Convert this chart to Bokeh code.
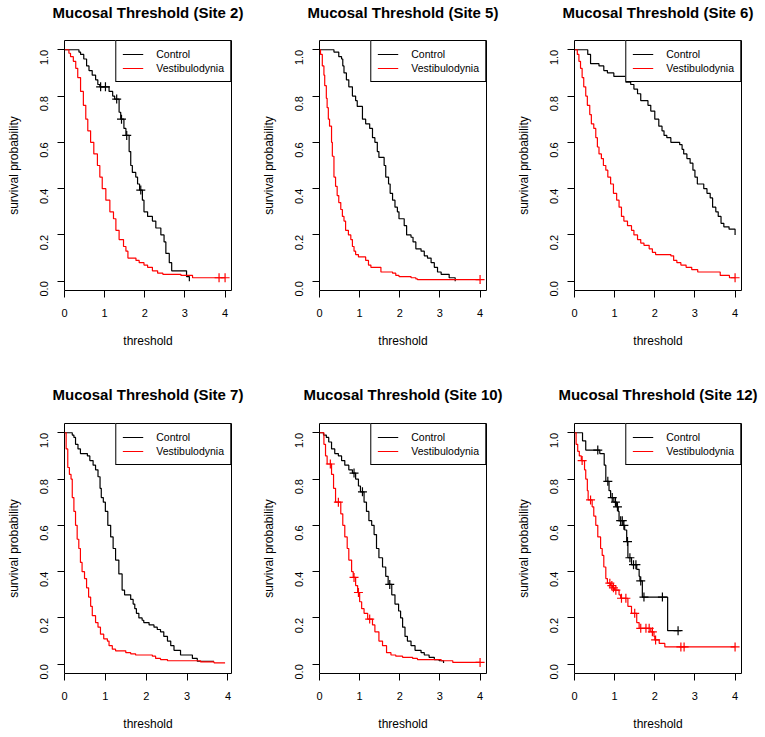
import math
import bisect
from bokeh.plotting import figure
from bokeh.layouts import column, row
from bokeh.models import Range1d, Legend, LegendItem, FixedTicker, PrintfTickFormatter, LinearAxis
from bokeh.embed import file_html
from bokeh.resources import INLINE

FONT = "Liberation Sans"
BLACK = "#000000"
RED = "#FF0000"

# ---------------- data ----------------
titles = ["Mucosal Threshold (Site 2)", "Mucosal Threshold (Site 5)", "Mucosal Threshold (Site 6)",
          "Mucosal Threshold (Site 7)", "Mucosal Threshold (Site 10)", "Mucosal Threshold (Site 12)"]
group_labels = ["Control", "Vestibulodynia"]
x_ticks = [0, 1, 2, 3, 4]
y_ticks = [0.0, 0.2, 0.4, 0.6, 0.8, 1.0]

# Site 2
s2_ctrl_t = [0.36, 0.40, 0.48, 0.55, 0.61, 0.69, 0.775, 0.83, 0.88, 1.11, 1.20, 1.25, 1.36, 1.40, 1.48, 1.53, 1.61, 1.65, 1.69, 1.775, 1.82, 1.87, 1.94, 1.98, 2.07, 2.19, 2.275, 2.40, 2.48, 2.525, 2.61, 2.67, 3.04, 3.11]
s2_ctrl_s = [0.99, 0.98, 0.96, 0.93, 0.91, 0.89, 0.87, 0.85, 0.84, 0.82, 0.80, 0.787, 0.73, 0.70, 0.66, 0.63, 0.56, 0.50, 0.47, 0.45, 0.42, 0.394, 0.35, 0.30, 0.28, 0.26, 0.23, 0.20, 0.17, 0.12, 0.08, 0.045, 0.02, 0.0]
s2_ctrl_end = 3.11
s2_ctrl_cens = [0.90, 1.02, 1.30, 1.42, 1.55, 1.90]
s2_ves_t = [0.11, 0.15, 0.22, 0.28, 0.33, 0.40, 0.47, 0.53, 0.58, 0.65, 0.73, 0.82, 0.88, 0.94, 1.03, 1.13, 1.22, 1.28, 1.36, 1.47, 1.53, 1.58, 1.78, 1.86, 1.98, 2.07, 2.19, 2.32, 2.45, 2.90, 3.19]
s2_ves_s = [0.985, 0.97, 0.95, 0.92, 0.88, 0.82, 0.76, 0.70, 0.65, 0.60, 0.55, 0.50, 0.45, 0.40, 0.35, 0.30, 0.27, 0.22, 0.18, 0.15, 0.13, 0.10, 0.09, 0.08, 0.07, 0.06, 0.045, 0.035, 0.03, 0.025, 0.015]
s2_ves_end = 4.0
s2_ves_cens = [3.85, 4.0]

# Site 5
s5_ctrl_t = [0.36, 0.48, 0.55, 0.58, 0.61, 0.67, 0.73, 0.82, 0.90, 0.94, 1.07, 1.15, 1.25, 1.32, 1.38, 1.44, 1.48, 1.61, 1.65, 1.72, 1.76, 1.82, 1.88, 1.94, 1.98, 2.11, 2.17, 2.28, 2.33, 2.40, 2.53, 2.61, 2.69, 2.78, 2.86, 2.94, 3.03, 3.23, 3.38]
s5_ctrl_s = [0.99, 0.97, 0.96, 0.93, 0.90, 0.87, 0.84, 0.80, 0.78, 0.755, 0.70, 0.68, 0.66, 0.62, 0.60, 0.56, 0.535, 0.50, 0.45, 0.42, 0.38, 0.35, 0.32, 0.30, 0.27, 0.24, 0.20, 0.19, 0.17, 0.14, 0.13, 0.11, 0.10, 0.08, 0.06, 0.04, 0.03, 0.015, 0.0]
s5_ctrl_end = 3.38
s5_ctrl_cens = []
s5_ves_t = [0.025, 0.07, 0.11, 0.13, 0.17, 0.19, 0.22, 0.25, 0.30, 0.32, 0.36, 0.40, 0.44, 0.48, 0.53, 0.57, 0.61, 0.65, 0.72, 0.78, 0.82, 0.86, 0.90, 0.97, 1.15, 1.22, 1.28, 1.53, 1.82, 1.90, 1.98, 2.28, 2.40, 2.44]
s5_ves_s = [0.98, 0.93, 0.89, 0.845, 0.79, 0.75, 0.70, 0.67, 0.60, 0.54, 0.45, 0.41, 0.37, 0.34, 0.31, 0.28, 0.26, 0.22, 0.20, 0.18, 0.15, 0.13, 0.115, 0.105, 0.09, 0.07, 0.06, 0.04, 0.035, 0.025, 0.02, 0.015, 0.01, 0.007]
s5_ves_end = 4.0
s5_ves_cens = [4.0]

# Site 6
s6_ctrl_t = [0.33, 0.40, 0.61, 0.73, 0.82, 0.98, 1.28, 1.40, 1.48, 1.57, 1.65, 1.83, 1.90, 2.00, 2.10, 2.18, 2.23, 2.30, 2.40, 2.62, 2.68, 2.72, 2.80, 2.88, 2.95, 3.00, 3.06, 3.22, 3.30, 3.38, 3.44, 3.52, 3.58, 3.65, 3.72, 3.85, 4.0]
s6_ctrl_s = [0.98, 0.94, 0.93, 0.91, 0.90, 0.885, 0.86, 0.85, 0.83, 0.81, 0.78, 0.76, 0.735, 0.70, 0.67, 0.65, 0.63, 0.62, 0.60, 0.59, 0.57, 0.55, 0.53, 0.51, 0.48, 0.45, 0.42, 0.40, 0.38, 0.36, 0.32, 0.30, 0.28, 0.25, 0.235, 0.225, 0.20]
s6_ctrl_end = 4.0
s6_ctrl_cens = []
s6_ves_t = [0.07, 0.11, 0.15, 0.19, 0.23, 0.28, 0.32, 0.38, 0.42, 0.48, 0.53, 0.57, 0.61, 0.67, 0.72, 0.78, 0.83, 0.90, 0.97, 1.05, 1.11, 1.17, 1.23, 1.32, 1.42, 1.48, 1.57, 1.65, 1.73, 1.86, 1.94, 2.02, 2.40, 2.47, 2.55, 2.65, 2.78, 2.92, 3.07, 3.63, 3.86]
s6_ves_s = [0.98, 0.95, 0.92, 0.88, 0.84, 0.80, 0.76, 0.72, 0.68, 0.66, 0.62, 0.58, 0.55, 0.53, 0.50, 0.48, 0.45, 0.42, 0.38, 0.35, 0.32, 0.28, 0.26, 0.24, 0.22, 0.20, 0.18, 0.165, 0.155, 0.14, 0.125, 0.115, 0.11, 0.09, 0.08, 0.07, 0.06, 0.05, 0.04, 0.025, 0.015]
s6_ves_end = 4.0
s6_ves_cens = [4.0]

# Site 7
s7_ctrl_t = [0.19, 0.23, 0.27, 0.33, 0.39, 0.56, 0.62, 0.70, 0.76, 0.82, 0.87, 0.90, 0.95, 1.00, 1.06, 1.13, 1.19, 1.25, 1.33, 1.41, 1.47, 1.62, 1.68, 1.72, 1.76, 1.82, 1.90, 1.94, 2.07, 2.19, 2.27, 2.35, 2.43, 2.52, 2.60, 2.68, 2.84, 3.13, 3.25]
s7_ctrl_s = [0.99, 0.98, 0.95, 0.93, 0.91, 0.90, 0.88, 0.86, 0.84, 0.81, 0.76, 0.72, 0.70, 0.66, 0.60, 0.55, 0.50, 0.45, 0.39, 0.32, 0.30, 0.28, 0.26, 0.24, 0.22, 0.20, 0.19, 0.18, 0.17, 0.16, 0.15, 0.14, 0.12, 0.10, 0.08, 0.06, 0.04, 0.025, 0.013]
s7_ctrl_end = 3.66
s7_ctrl_cens = []
s7_ves_t = [0.04, 0.08, 0.12, 0.16, 0.19, 0.23, 0.27, 0.31, 0.35, 0.39, 0.43, 0.49, 0.54, 0.59, 0.64, 0.68, 0.76, 0.82, 0.88, 0.96, 1.05, 1.09, 1.17, 1.25, 1.50, 1.62, 1.74, 2.15, 2.23, 2.35, 2.52, 3.33, 3.66]
s7_ves_s = [0.93, 0.85, 0.82, 0.80, 0.72, 0.66, 0.60, 0.54, 0.50, 0.44, 0.40, 0.37, 0.33, 0.29, 0.25, 0.21, 0.18, 0.16, 0.13, 0.11, 0.10, 0.08, 0.065, 0.058, 0.05, 0.045, 0.04, 0.035, 0.025, 0.02, 0.015, 0.01, 0.006]
s7_ves_end = 3.93
s7_ves_cens = []

# Site 10
s10_ctrl_t = [0.10, 0.17, 0.23, 0.30, 0.38, 0.47, 0.55, 0.63, 0.73, 0.82, 0.90, 0.97, 1.02, 1.11, 1.17, 1.23, 1.30, 1.36, 1.42, 1.48, 1.57, 1.65, 1.71, 1.80, 1.88, 1.97, 2.02, 2.07, 2.13, 2.19, 2.28, 2.38, 2.53, 2.61, 2.73, 2.86, 2.98, 3.09]
s10_ctrl_s = [0.99, 0.98, 0.96, 0.93, 0.91, 0.90, 0.88, 0.86, 0.84, 0.826, 0.80, 0.77, 0.745, 0.70, 0.66, 0.62, 0.60, 0.56, 0.50, 0.46, 0.42, 0.38, 0.345, 0.30, 0.26, 0.23, 0.20, 0.16, 0.12, 0.10, 0.08, 0.06, 0.05, 0.04, 0.03, 0.02, 0.015, 0.005]
s10_ctrl_end = 3.09
s10_ctrl_cens = [0.86, 1.07, 1.75]
s10_ves_t = [0.11, 0.15, 0.19, 0.30, 0.35, 0.40, 0.53, 0.58, 0.63, 0.69, 0.73, 0.80, 0.84, 0.90, 0.95, 1.00, 1.05, 1.11, 1.20, 1.32, 1.38, 1.48, 1.57, 1.67, 1.78, 1.90, 2.07, 2.32, 2.44, 3.03, 3.32]
s10_ves_s = [0.95, 0.90, 0.865, 0.82, 0.76, 0.70, 0.65, 0.60, 0.55, 0.50, 0.45, 0.40, 0.375, 0.34, 0.31, 0.27, 0.24, 0.22, 0.195, 0.17, 0.14, 0.10, 0.08, 0.05, 0.04, 0.035, 0.03, 0.025, 0.02, 0.015, 0.008]
s10_ves_end = 4.0
s10_ves_cens = [0.27, 0.47, 0.86, 0.97, 1.25, 4.0]

# Site 12
s12_ctrl_t = [0.20, 0.28, 0.63, 0.74, 0.78, 0.86, 0.90, 0.98, 1.05, 1.09, 1.11, 1.21, 1.25, 1.30, 1.33, 1.42, 1.55, 1.61, 1.63, 1.69, 2.32]
s12_ctrl_s = [0.965, 0.925, 0.91, 0.86, 0.79, 0.75, 0.72, 0.70, 0.68, 0.66, 0.62, 0.60, 0.58, 0.53, 0.46, 0.43, 0.41, 0.38, 0.36, 0.29, 0.145]
s12_ctrl_end = 2.65
s12_ctrl_cens = [0.58, 0.83, 0.94, 1.02, 1.07, 1.15, 1.19, 1.23, 1.32, 1.38, 1.47, 1.53, 1.65, 1.73, 2.19, 2.58]
s12_ves_t = [0.04, 0.08, 0.12, 0.17, 0.25, 0.28, 0.32, 0.34, 0.44, 0.48, 0.53, 0.58, 0.65, 0.69, 0.73, 0.78, 0.82, 0.90, 0.95, 1.00, 1.11, 1.15, 1.33, 1.42, 1.55, 1.61, 1.90, 1.98, 2.00, 2.11, 2.25]
s12_ves_s = [0.95, 0.92, 0.90, 0.88, 0.84, 0.80, 0.75, 0.71, 0.68, 0.64, 0.60, 0.55, 0.50, 0.47, 0.42, 0.37, 0.35, 0.34, 0.33, 0.32, 0.30, 0.285, 0.25, 0.22, 0.18, 0.155, 0.14, 0.12, 0.105, 0.09, 0.075]
s12_ves_end = 4.0
s12_ves_cens = [0.19, 0.40, 0.88, 0.93, 0.97, 1.03, 1.17, 1.28, 1.50, 1.65, 1.78, 1.86, 1.94, 2.02, 2.65, 2.73, 4.0]

panels = [
    (s2_ctrl_t, s2_ctrl_s, s2_ctrl_end, s2_ctrl_cens, s2_ves_t, s2_ves_s, s2_ves_end, s2_ves_cens),
    (s5_ctrl_t, s5_ctrl_s, s5_ctrl_end, s5_ctrl_cens, s5_ves_t, s5_ves_s, s5_ves_end, s5_ves_cens),
    (s6_ctrl_t, s6_ctrl_s, s6_ctrl_end, s6_ctrl_cens, s6_ves_t, s6_ves_s, s6_ves_end, s6_ves_cens),
    (s7_ctrl_t, s7_ctrl_s, s7_ctrl_end, s7_ctrl_cens, s7_ves_t, s7_ves_s, s7_ves_end, s7_ves_cens),
    (s10_ctrl_t, s10_ctrl_s, s10_ctrl_end, s10_ctrl_cens, s10_ves_t, s10_ves_s, s10_ves_end, s10_ves_cens),
    (s12_ctrl_t, s12_ctrl_s, s12_ctrl_end, s12_ctrl_cens, s12_ves_t, s12_ves_s, s12_ves_end, s12_ves_cens),
]


def surv_at(times, survs, t):
    i = bisect.bisect_right(times, t)
    return 1.0 if i == 0 else survs[i - 1]


def make_panel(idx):
    ct, cs, cend, ccens, vt, vs, vend, vcens = panels[idx]
    col = idx % 3
    first_row = idx < 3
    xmax = 1.04 * max(cend, vend)
    p = figure(frame_width=167, frame_height=250,
               x_range=Range1d(0, xmax), y_range=Range1d(-0.04, 1.04),
               output_backend="svg", toolbar_location=None,
               min_border_left=64, min_border_right=(20 if col == 2 else 24),
               min_border_top=(40 if first_row else 63),
               min_border_bottom=(70 if first_row else 62),
               background_fill_color="white", border_fill_color="white")
    p.outline_line_color = BLACK
    p.outline_line_width = 1
    p.outline_line_alpha = 1
    p.grid.visible = False

    xax = p.below[0]
    yax = p.left[0]
    for ax in (xax, yax):
        ax.axis_line_color = None
        ax.major_tick_in = 0
        ax.major_tick_out = 7
        ax.major_tick_line_color = BLACK
        ax.minor_tick_line_color = None
        ax.major_label_text_font = FONT
        ax.major_label_text_font_size = "11px"
        ax.major_label_text_color = BLACK
        ax.axis_label_text_font = FONT
        ax.axis_label_text_font_size = "12px"
        ax.axis_label_text_font_style = "normal"
        ax.axis_label_text_color = BLACK
    xax.ticker = FixedTicker(ticks=x_ticks)
    yax.ticker = FixedTicker(ticks=y_ticks)
    yax.formatter = PrintfTickFormatter(format="%.1f")
    yax.major_label_orientation = math.pi / 2
    xax.major_label_standoff = 11
    yax.major_label_standoff = 13
    xax.axis_label = "threshold"
    yax.axis_label = "survival probability"
    xax.axis_label_standoff = 14
    yax.axis_label_standoff = 13

    # plot title, centred over the plot box (drawn as the label of a bare top axis)
    top = LinearAxis(axis_label=titles[idx], ticker=FixedTicker(ticks=[]),
                     axis_line_color=None, major_tick_out=0, major_tick_in=0,
                     minor_tick_line_color=None, major_label_standoff=0,
                     major_label_text_font_size="0px",
                     axis_label_standoff=(20 if first_row else 21),
                     axis_label_text_font=FONT, axis_label_text_font_size="15px",
                     axis_label_text_font_style="bold", axis_label_text_color=BLACK)
    p.add_layout(top, "above")

    rend = []
    for t, s, end, cens, color in ((ct, cs, cend, ccens, BLACK), (vt, vs, vend, vcens, RED)):
        xs = [0.0] + list(t) + [end]
        ys = [1.0] + list(s) + [s[-1]]
        r = p.step(xs, ys, mode="after", line_color=color, line_width=1.2)
        rend.append(r)
        if cens:
            cy = [surv_at(t, s, c) for c in cens]
            p.scatter(cens, cy, marker="cross", size=9, line_color=color, line_width=1.2)

    legend = Legend(items=[LegendItem(label=group_labels[0], renderers=[rend[0]]),
                           LegendItem(label=group_labels[1], renderers=[rend[1]])],
                    location="top_right", margin=0, padding=6, spacing=0,
                    label_height=14, glyph_height=14, glyph_width=21, label_standoff=13,
                    label_text_font=FONT, label_text_font_size="10.5px", label_text_color=BLACK,
                    border_line_color=BLACK, border_line_width=1, border_line_alpha=1,
                    background_fill_color="white", background_fill_alpha=1)
    p.add_layout(legend)
    return p


figs = [make_panel(i) for i in range(6)]
layout = column(row(*figs[:3]), row(*figs[3:]))

open("out.html", "w").write(file_html(layout, INLINE))
